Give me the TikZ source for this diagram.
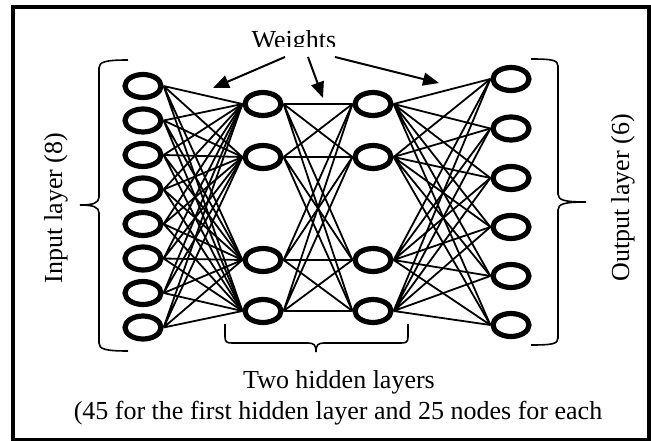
\documentclass[tikz,border=0pt]{standalone}
\usepackage{fontspec}
\setmainfont{Liberation Serif}
\usetikzlibrary{shapes.geometric,arrows.meta}

\begin{document}
\begin{tikzpicture}[x=1pt,y=-1pt]
    \tikzstyle{every node}+=[inner sep=0pt]
    \tikzstyle{neuron}=[draw=black, ellipse, line width=5.2pt, fill=white, minimum width=36pt, minimum height=23pt]
    \tikzstyle{wire}=[black, line width=1.8pt]
    \tikzstyle{brc}=[black, line width=1.6pt]
    \tikzstyle{wgt}=[black, line width=2pt, -{Triangle[length=16pt,width=13pt]}]
    \tikzstyle{lbl}=[font=\fontsize{26}{31}\selectfont, anchor=base]
    \useasboundingbox (0,0) rectangle (651,441);
    \draw [black, line width=4pt] (13,7) rectangle (649,440);
    \node [neuron] (in1) at (143,86) {};
    \node [neuron] (in2) at (143,120.5) {};
    \node [neuron] (in3) at (143,155) {};
    \node [neuron] (in4) at (143,189.5) {};
    \node [neuron] (in5) at (143,224) {};
    \node [neuron] (in6) at (143,258.5) {};
    \node [neuron] (in7) at (143,293) {};
    \node [neuron] (in8) at (143,327.5) {};
    \node [neuron] (ha1) at (263,104) {};
    \node [neuron] (ha2) at (263,157) {};
    \node [neuron] (ha3) at (263,260) {};
    \node [neuron] (ha4) at (263,311) {};
    \node [neuron] (hb1) at (373,104) {};
    \node [neuron] (hb2) at (373,157) {};
    \node [neuron] (hb3) at (373,260) {};
    \node [neuron] (hb4) at (373,311) {};
    \node [neuron] (out1) at (511,79) {};
    \node [neuron] (out2) at (511,128.5) {};
    \node [neuron] (out3) at (511,178) {};
    \node [neuron] (out4) at (511,227) {};
    \node [neuron] (out5) at (511,276) {};
    \node [neuron] (out6) at (511,325) {};
    \draw [wire] (in1.east) -- (ha1.west) (in1.east) -- (ha2.west) (in1.east) -- (ha3.west) (in1.east) -- (ha4.west);
    \draw [wire] (in2.east) -- (ha1.west) (in2.east) -- (ha2.west) (in2.east) -- (ha3.west) (in2.east) -- (ha4.west);
    \draw [wire] (in3.east) -- (ha1.west) (in3.east) -- (ha2.west) (in3.east) -- (ha3.west) (in3.east) -- (ha4.west);
    \draw [wire] (in4.east) -- (ha1.west) (in4.east) -- (ha2.west) (in4.east) -- (ha3.west) (in4.east) -- (ha4.west);
    \draw [wire] (in5.east) -- (ha1.west) (in5.east) -- (ha2.west) (in5.east) -- (ha3.west) (in5.east) -- (ha4.west);
    \draw [wire] (in6.east) -- (ha1.west) (in6.east) -- (ha2.west) (in6.east) -- (ha3.west) (in6.east) -- (ha4.west);
    \draw [wire] (in7.east) -- (ha1.west) (in7.east) -- (ha2.west) (in7.east) -- (ha3.west) (in7.east) -- (ha4.west);
    \draw [wire] (in8.east) -- (ha1.west) (in8.east) -- (ha2.west) (in8.east) -- (ha3.west) (in8.east) -- (ha4.west);
    \draw [wire] (ha1.east) -- (hb1.west) (ha1.east) -- (hb2.west) (ha1.east) -- (hb3.west) (ha1.east) -- (hb4.west);
    \draw [wire] (ha2.east) -- (hb1.west) (ha2.east) -- (hb2.west) (ha2.east) -- (hb3.west) (ha2.east) -- (hb4.west);
    \draw [wire] (ha3.east) -- (hb1.west) (ha3.east) -- (hb2.west) (ha3.east) -- (hb3.west) (ha3.east) -- (hb4.west);
    \draw [wire] (ha4.east) -- (hb1.west) (ha4.east) -- (hb2.west) (ha4.east) -- (hb3.west) (ha4.east) -- (hb4.west);
    \draw [wire] (hb1.east) -- (out1.west) (hb1.east) -- (out2.west) (hb1.east) -- (out3.west) (hb1.east) -- (out4.west) (hb1.east) -- (out5.west) (hb1.east) -- (out6.west);
    \draw [wire] (hb2.east) -- (out1.west) (hb2.east) -- (out2.west) (hb2.east) -- (out3.west) (hb2.east) -- (out4.west) (hb2.east) -- (out5.west) (hb2.east) -- (out6.west);
    \draw [wire] (hb3.east) -- (out1.west) (hb3.east) -- (out2.west) (hb3.east) -- (out3.west) (hb3.east) -- (out4.west) (hb3.east) -- (out5.west) (hb3.east) -- (out6.west);
    \draw [wire] (hb4.east) -- (out1.west) (hb4.east) -- (out2.west) (hb4.east) -- (out3.west) (hb4.east) -- (out4.west) (hb4.east) -- (out5.west) (hb4.east) -- (out6.west);
    \draw [brc] (128,60) .. controls (105,60) and (99,62) .. (99,68) -- (99,197) .. controls (99,203) and (93,205) .. (80,205) .. controls (93,205) and (99,207) .. (99,213) -- (99,343) .. controls (99,349) and (105,351) .. (128,351);
    \draw [brc] (531,59) .. controls (552,59) and (558,60) .. (558,66) -- (558,194) .. controls (558,200) and (564,202) .. (586,202) .. controls (564,202) and (558,204) .. (558,210) -- (558,338) .. controls (558,344) and (552,345) .. (531,345);
    \draw [brc] (225,324) -- (225,337) .. controls (225,342) and (227,343) .. (232,343) -- (308,343) .. controls (314,343) and (316,345) .. (316,352) .. controls (316,345) and (318,343) .. (324,343) -- (401,343) .. controls (406,343) and (408,342) .. (408,337) -- (408,324);
    \node [lbl, rotate=90] (inlbl) at (62,208) {Input layer (8)};
    \node [lbl, rotate=90] (outlbl) at (629,198) {Output layer (6)};
    \node [lbl] (hid) at (339,388) {Two hidden layers};
    \node [lbl] (hidnote) at (338,419) {(45 for the first hidden layer and 25 nodes for each};
    \begin{scope}
    \clip (200,20) rectangle (400,47);
    \node [lbl] (wt) at (294,48.5) {Weights};
    \end{scope}
    \coordinate (w1) at (285,57);
    \coordinate (w2) at (308,57);
    \coordinate (w3) at (335,57);
    \coordinate (t1) at (213,88);
    \coordinate (t2) at (323,98);
    \coordinate (t3) at (439,83);
    \draw [wgt] (w1) -- (t1);
    \draw [wgt] (w2) -- (t2);
    \draw [wgt] (w3) -- (t3);
\end{tikzpicture}
\end{document}
